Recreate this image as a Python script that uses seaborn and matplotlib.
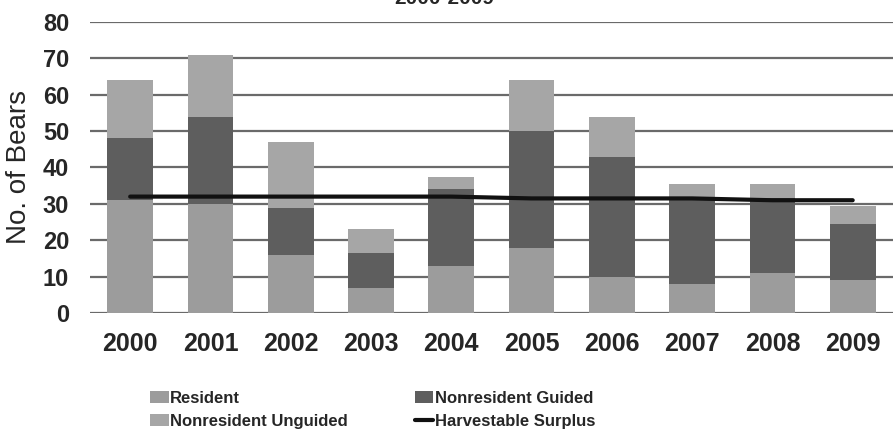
import pandas as pd
import numpy as np
import seaborn as sns
import matplotlib.pyplot as plt

# Bear harvest by hunter category, 2000-2009
years = ['2000', '2001', '2002', '2003', '2004', '2005', '2006', '2007', '2008', '2009']
resident = [31, 30, 16, 7, 13, 18, 10, 8, 11, 9]
nonres_guided = [17, 24, 13, 9.5, 21, 32, 33, 24, 20.5, 15.5]
nonres_unguided = [16, 17, 18, 6.5, 3.5, 14, 11, 3.5, 4, 5]
surplus = [32, 32, 32, 32, 32, 31.5, 31.5, 31.5, 31, 31]

df = pd.DataFrame({'Year': years, 'Resident': resident,
                   'Guided': nonres_guided, 'Unguided': nonres_unguided,
                   'Surplus': surplus})
df['top_guided'] = df['Resident'] + df['Guided']
df['top_all'] = df['top_guided'] + df['Unguided']

sns.set_style('white')
plt.rcParams['font.family'] = ['Liberation Sans', 'DejaVu Sans']

fig = plt.figure(figsize=(8.94, 4.45), dpi=100)
ax = fig.add_axes([0.1007, 0.2966, 0.898, 0.654])

# stacked bars drawn as overlapping cumulative totals
bar_kw = dict(width=0.57, linewidth=0, ax=ax, zorder=2)
sns.barplot(data=df, x='Year', y='top_all', color='#a6a6a6',
            label='Nonresident Unguided', **bar_kw)
sns.barplot(data=df, x='Year', y='top_guided', color='#5e5e5e',
            label='Nonresident Guided', **bar_kw)
sns.barplot(data=df, x='Year', y='Resident', color='#9c9c9c',
            label='Resident', **bar_kw)
sns.lineplot(x=np.arange(len(years)), y=df['Surplus'], color='#111111',
             linewidth=3, label='Harvestable Surplus', ax=ax, zorder=3)

ax.set_ylim(0, 80)
ax.set_xlim(-0.5, 9.5)
ax.set_yticks(range(0, 81, 10))
ax.yaxis.grid(True, color='#6a6a6a', linewidth=1.6, zorder=0)
ax.set_axisbelow(True)
for s in ax.spines.values():
    s.set_visible(False)
ax.tick_params(axis='both', length=0)
ax.tick_params(axis='y', pad=15, labelsize=17)
ax.tick_params(axis='x', pad=14, labelsize=18)
for lbl in ax.get_xticklabels() + ax.get_yticklabels():
    lbl.set_fontweight('bold')
ax.set_xlabel('')
ax.set_ylabel('No. of Bears', fontsize=20, labelpad=8)

# title sits partly above the top edge in the original
fig.text(0.497, 1.004, '2000-2009', ha='center', va='center',
         fontsize=15, fontweight='bold')

handles, labels = ax.get_legend_handles_labels()
hmap = dict(zip(labels, handles))
order = ['Resident', 'Nonresident Unguided', 'Nonresident Guided', 'Harvestable Surplus']
if ax.legend_:
    ax.legend_.remove()
fig.legend([hmap[k] for k in order], order, ncol=2, loc='upper left',
           bbox_to_anchor=(0.168, 0.122), frameon=False,
           prop={'weight': 'bold', 'size': 12},
           handlelength=1.1, handletextpad=0.1, columnspacing=4.0,
           labelspacing=0.5, borderaxespad=0, borderpad=0)

plt.savefig('out.png', dpi=100)
